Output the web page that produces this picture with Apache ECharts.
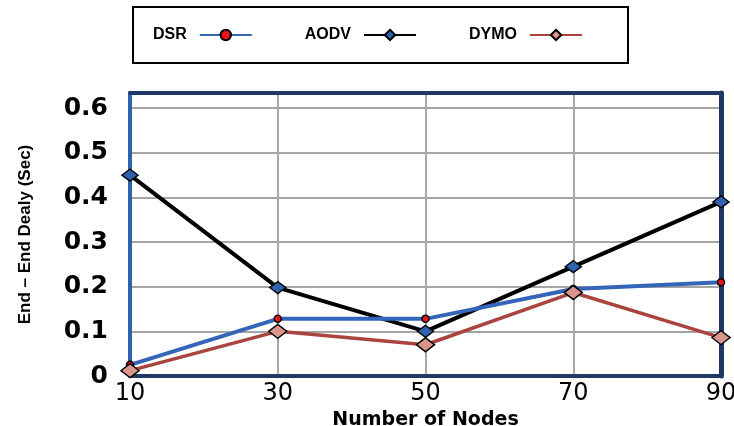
<!DOCTYPE html>
<html>
<head>
<meta charset="utf-8">
<script src="https://cdn.jsdelivr.net/npm/echarts@6/dist/echarts.min.js"></script>
<style>html,body{margin:0;padding:0;background:#fff;}#c{width:734px;height:426px;}</style>
</head>
<body>
<div id="c"></div>
<script>
var nodes = [10, 30, 50, 70, 90];
var dsr  = [0.025, 0.128, 0.128, 0.195, 0.21];
var aodv = [0.45, 0.198, 0.1, 0.245, 0.39];
var dymo = [0.012, 0.1, 0.07, 0.187, 0.086];
var yTicks = [0, 0.1, 0.2, 0.3, 0.4, 0.5, 0.6];

function pairs(v){ return nodes.map(function(n,i){ return [n, v[i]]; }); }

var frame = '#1f3864';
var chart = echarts.init(document.getElementById('c'));
chart.setOption({
  animation: false,
  backgroundColor: '#fff',
  legend: {
    left: 133, top: 7,
    align: 'right',
    padding: [20, 45, 20, 20],
    borderColor: '#000', borderWidth: 2,
    itemWidth: 52, itemHeight: 13,
    itemGap: 52,
    textStyle: { fontFamily: 'Liberation Sans, Arial', fontWeight: 'bold', fontSize: 16, color: '#000', padding: [0, 8, 0, 0] },
    data: ['DSR', 'AODV', 'DYMO']
  },
  grid: { left: 130, right: 13, top: 93, bottom: 50, containLabel: false, outerBoundsMode: 'none' },
  xAxis: [{
    type: 'value', min: 10, max: 90, interval: 20,
    name: 'Number of Nodes', nameLocation: 'middle', nameGap: 27,
    nameTextStyle: { fontFamily: 'DejaVu Sans', fontWeight: 'bold', fontSize: 19, color: '#000' },
    axisLine: { show: true, onZero: false, lineStyle: { color: frame, width: 4 } },
    axisTick: { show: false },
    axisLabel: { fontFamily: 'DejaVu Sans', fontSize: 24, color: '#000', margin: 6 },
    splitLine: { show: true, lineStyle: { color: '#a6a6a6', width: 2 } }
  }, {
    type: 'value', min: 10, max: 90, position: 'top',
    axisLine: { show: true, onZero: false, lineStyle: { color: frame, width: 4 } },
    axisTick: { show: false }, axisLabel: { show: false }, splitLine: { show: false }
  }],
  yAxis: [{
    type: 'value', min: 0, max: 0.634, interval: 0.1,
    name: 'End – End Dealy (Sec)', nameLocation: 'middle', nameGap: 96,
    nameTextStyle: { fontFamily: 'Liberation Sans', fontWeight: 'bold', fontSize: 17, color: '#000' },
    axisLine: { show: true, onZero: false, lineStyle: { color: '#2e63b0', width: 4 } },
    axisTick: { show: false },
    axisLabel: {
      showMaxLabel: false,
      fontFamily: 'DejaVu Sans', fontWeight: 'bold', fontSize: 25, color: '#000', margin: 22,
      formatter: function(v){ var r = Math.round(v*10)/10; return yTicks.indexOf(r) >= 0 ? String(r) : ''; }
    },
    splitLine: { show: true, lineStyle: { color: '#a6a6a6', width: 2 } }
  }, {
    type: 'value', min: 0, max: 0.634, position: 'right',
    axisLine: { show: true, onZero: false, lineStyle: { color: frame, width: 5 } },
    axisTick: { show: false }, axisLabel: { show: false }, splitLine: { show: false }
  }],
  series: [
    { name: 'DSR', type: 'line', data: pairs(dsr), symbol: 'circle', symbolSize: 7,
      lineStyle: { color: '#3565b8', width: 4 },
      itemStyle: { color: '#e8141e', borderColor: '#000', borderWidth: 1.5 }, z: 3 },
    { name: 'AODV', type: 'line', data: pairs(aodv), symbol: 'diamond', symbolSize: [16, 12],
      lineStyle: { color: '#000', width: 4 },
      itemStyle: { color: '#2f64ad', borderColor: '#000', borderWidth: 1.5 }, z: 2 },
    { name: 'DYMO', type: 'line', data: pairs(dymo), symbol: 'diamond', symbolSize: [18, 14],
      lineStyle: { color: '#a9443f', width: 3.5 },
      itemStyle: { color: '#d9948d', borderColor: '#000', borderWidth: 1.5 }, z: 4 }
  ]
});
</script>
</body>
</html>
